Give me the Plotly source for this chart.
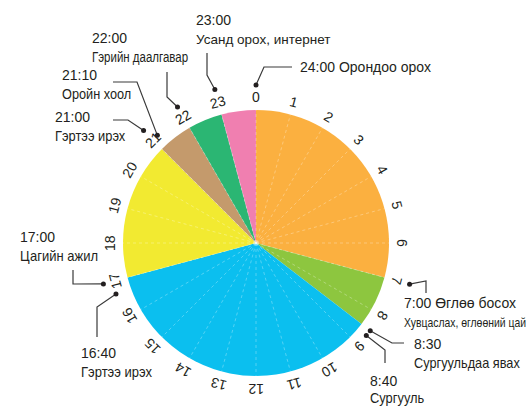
import math
import json
import plotly.graph_objects as go

W, H = 529, 407
CX, CY, R = 256, 243, 133  # pie centre/radius in pixels

# Activity segments (hours of day)
seg_names = ["Унтах", "Өглөө босох", "Сургууль", "Цагийн ажил", "Оройн хоол", "Гэрийн даалгавар", "Усанд орох, интернет"]
seg_start = [0, 7, 8.5, 17, 21, 22, 23]
seg_end = [7, 8.5, 17, 21, 22, 23, 24]
seg_colors = ["#FBB040", "#8DC63F", "#0BBFEF", "#F2EA31", "#C49A6C", "#2BB673", "#F07FB0"]

hours = list(range(24))
hour_labels = [str(h) for h in hours]

# Callouts
call_time = [23.0, 22.0, 21 + 10 / 60, 21.0, 24.0, 17.0, 16 + 40 / 60, 7.0, 8.5, 8 + 40 / 60]
call_title = ["23:00", "22:00", "21:10", "21:00", "24:00 Орондоо орох", "17:00", "16:40",
              "7:00 Өглөө босох", "8:30", "8:40"]
call_sub = ["Усанд орох, интернет", "Гэрийн даалгавар", "Оройн хоол", "Гэртээ ирэх", "",
            "Цагийн ажил", "Гэртээ ирэх", "Хувцаслах, өглөөний цай", "Сургуульдаа явах", "Сургууль"]
call_sub_size = [13.5, 14, 14, 14, 14, 14, 14, 13, 14, 14]
call_sub_squeeze = [1.0, 0.82, 0.91, 0.92, 1.0, 0.93, 0.93, 0.8, 0.91, 0.92]
call_sub_gap = [19, 19, 19, 19, 19, 19, 19, 19, 19, 17]
call_dot_r = [159, 157, 146, 159, 158, 158, 149, 159, 144, 144]
call_text_xy = [(194, 20), (90, 38), (60, 75), (53, 117), (298, 67), (18, 237), (79, 353),
                (402, 303), (412, 344), (368, 381)]
call_elbow = [
    [(207, 53), (207, 75)],
    [(167, 72), (167, 97)],
    [(113, 82), (137, 82)],
    [(113, 120), (128, 120)],
    [(292, 67), (264, 67)],
    [(73, 270), (73, 284)],
    [(97, 337), (97, 307)],
    [(426, 293), (426, 281)],
    [(404, 343), (392, 343)],
    [(385, 363), (385, 350)],
]


def polar_px(hour, r):
    a = math.radians(hour * 15)
    return CX + r * math.sin(a), CY - r * math.cos(a)


fig = go.Figure()

durations = [e - s for s, e in zip(seg_start, seg_end)]
fig.add_trace(go.Pie(
    values=durations, labels=seg_names, marker=dict(colors=seg_colors, line=dict(width=0)),
    sort=False, direction="clockwise", rotation=0, textinfo="none", hoverinfo="label",
    showlegend=False,
    domain=dict(x=[(CX - R) / W, (CX + R) / W], y=[(H - CY - R) / H, (H - CY + R) / H]),
))

shapes = []
for h in hours:
    x1, y1 = polar_px(h, R)
    shapes.append(dict(type="line", xref="x", yref="y", x0=CX, y0=CY, x1=x1, y1=y1,
                       line=dict(color="rgba(255,255,255,0.3)", width=1, dash="dot"),
                       layer="above"))

FONT = "Liberation Sans, Arial, sans-serif"
annotations = []
for h, lab in zip(hours, hour_labels):
    x, y = polar_px(h, 146)
    annotations.append(dict(x=x, y=y, xref="x", yref="y", text=lab, showarrow=False,
                            textangle=h * 15, xanchor="center", yanchor="middle",
                            font=dict(family=FONT, size=14, color="#231F20")))

squeeze_map = {}
for t, title, sub, ssz, sq, gap, dr, (tx, ty), elbow in zip(call_time, call_title, call_sub, call_sub_size,
                                                             call_sub_squeeze, call_sub_gap, call_dot_r,
                                                             call_text_xy, call_elbow):
    dx, dy = polar_px(t, dr)
    xs = [p[0] for p in elbow] + [dx]
    ys = [p[1] for p in elbow] + [dy]
    fig.add_trace(go.Scatter(x=xs, y=ys, mode="lines", line=dict(color="#3a3a3a", width=1.2),
                             hoverinfo="skip", showlegend=False))
    fig.add_trace(go.Scatter(x=[dx], y=[dy], mode="markers", marker=dict(color="#231F20", size=5),
                             hoverinfo="skip", showlegend=False))
    annotations.append(dict(x=tx, y=ty, xref="x", yref="y", text=title, showarrow=False,
                            xanchor="left", yanchor="middle",
                            font=dict(family=FONT, size=14, color="#231F20")))
    if sub:
        if sq != 1.0:
            squeeze_map[len(annotations)] = sq
        annotations.append(dict(x=tx, y=ty + gap, xref="x", yref="y", text=sub, showarrow=False,
                                xanchor="left", yanchor="middle",
                                font=dict(family=FONT, size=ssz, color="#231F20")))

fig.update_layout(
    width=W, height=H, margin=dict(l=0, r=0, t=0, b=0),
    paper_bgcolor="white", plot_bgcolor="rgba(0,0,0,0)",
    xaxis=dict(range=[0, W], visible=False, fixedrange=True, domain=[0, 1]),
    yaxis=dict(range=[H, 0], visible=False, fixedrange=True, domain=[0, 1]),
    shapes=shapes, annotations=annotations, showlegend=False,
)

post = """
document.body.style.margin='0';document.body.style.overflow='hidden';
(function(){
  var sq = %s;
  function squeeze(){
    document.querySelectorAll('g.annotation').forEach(function(g){
      var k = g.getAttribute('data-index');
      if (sq.hasOwnProperty(k)) {
        var t = g.querySelector('text');
        if (t) { t.style.transformBox='fill-box'; t.style.transformOrigin='left center'; t.style.transform='scaleX(' + sq[k] + ')'; }
      }
    });
  }
  squeeze(); setTimeout(squeeze, 30);
})();
""" % json.dumps({str(k): v for k, v in squeeze_map.items()})

fig.write_html("out.html", config={"displayModeBar": False}, post_script=post)
